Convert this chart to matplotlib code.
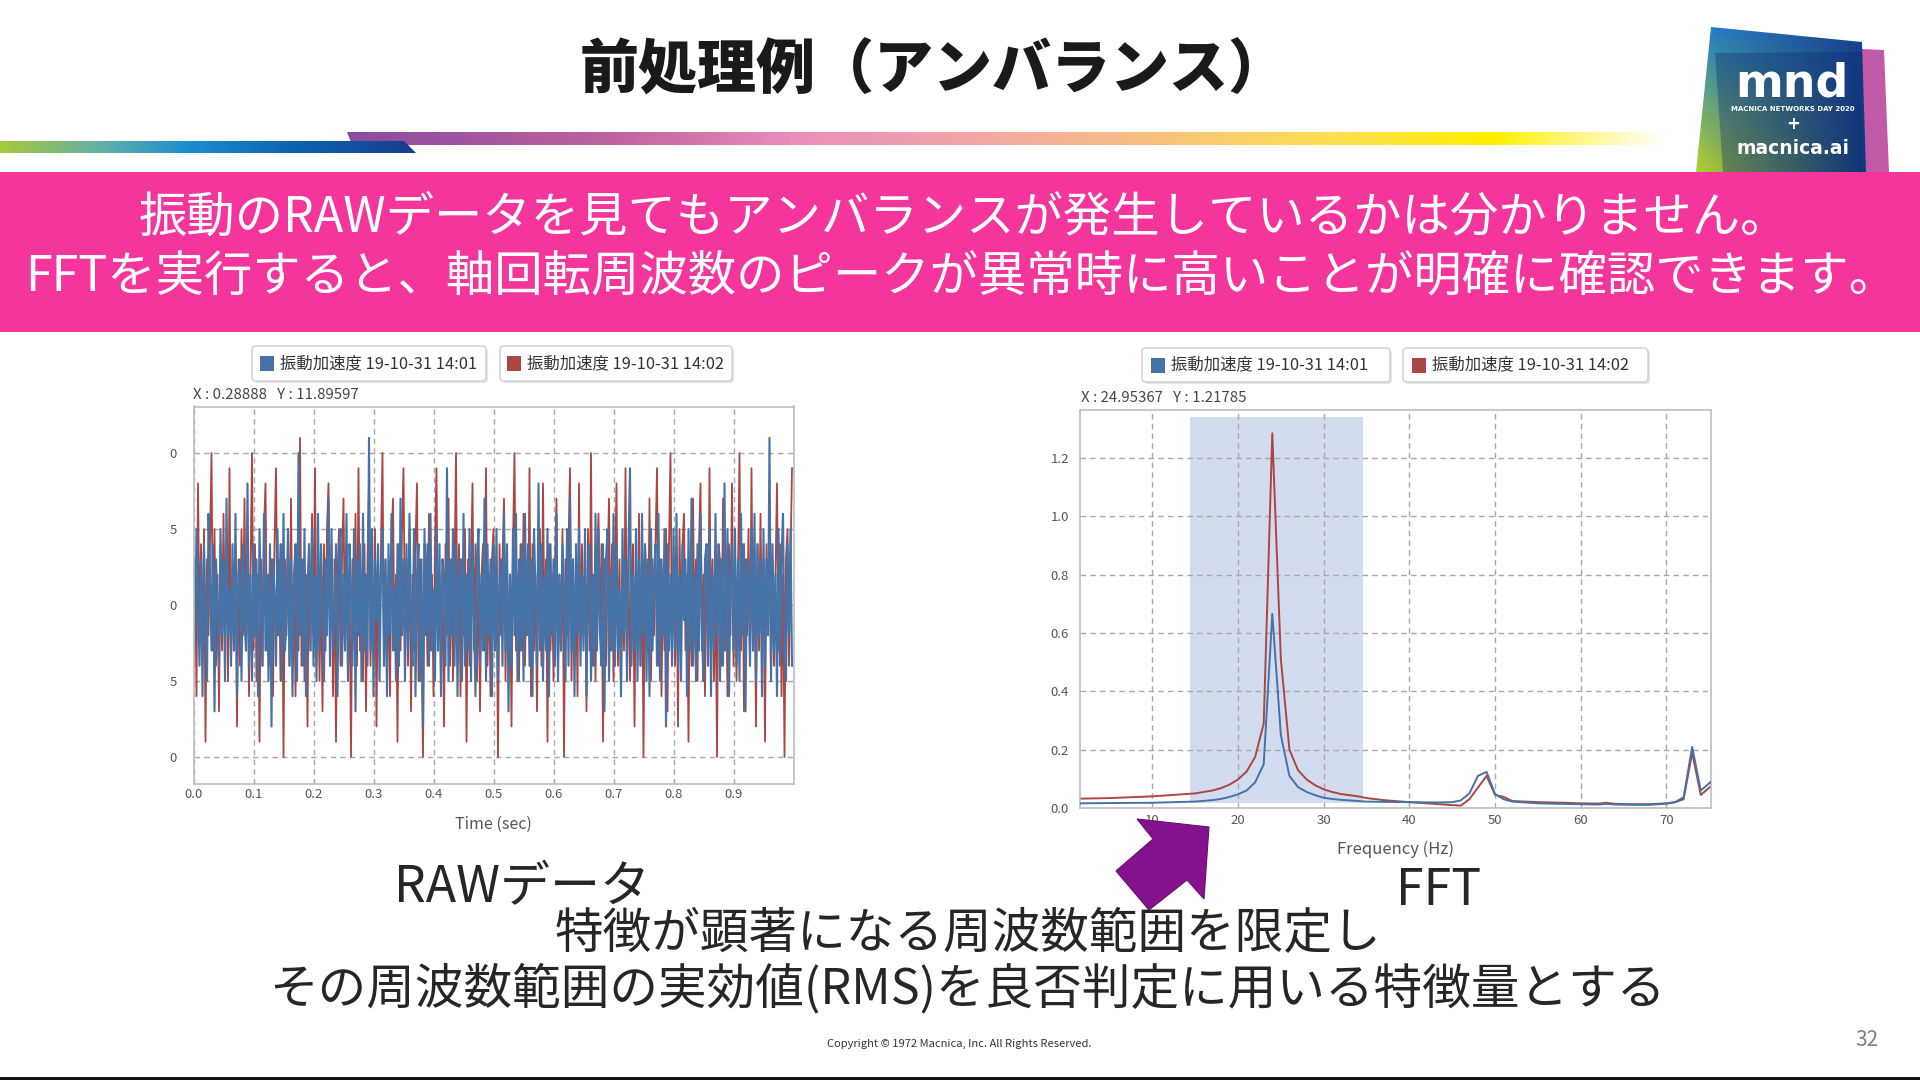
import numpy as np
import matplotlib.pyplot as plt
from matplotlib.patches import Polygon, Rectangle, FancyBboxPatch
from matplotlib.colors import LinearSegmentedColormap, to_rgb

plt.rcParams['font.family'] = ['Noto Sans CJK JP', 'DejaVu Sans']

W, H = 1920, 1080

# ---- データ ----
title = '前処理例（アンバランス）'
banner_lines = ['振動のRAWデータを見てもアンバランスが発生しているかは分かりません。',
                'FFTを実行すると、軸回転周波数のピークが異常時に高いことが明確に確認できます。']
bottom_lines = ['特徴が顕著になる周波数範囲を限定し',
                'その周波数範囲の実効値(RMS)を良否判定に用いる特徴量とする']
series_labels = ['振動加速度 19-10-31 14:01', '振動加速度 19-10-31 14:02']

# RAW 振動加速度（1秒分）
raw_blue = [2, -3, 5, 1, -4, 3, -6, 4, -1, -5, 6, 2, -3, 4, -7, 3, 0, -4, 5, -2,
            3, -5, 7, -2, 1, -4, 4, -3, 6, -6, 2, 3, -5, 4, -1, -3, 8, -4, 2, -5,
            4, -2, 3, -6, 5, 0, -4, 6, -3, 2, -5, 4, -8, 3, 1, -4, 5, -2, 4, -5,
            6, -3, -1, 5, -4, 3, -6, 2, 4, -5, 10, -2, 3, -4, 5, -6, 1, 4, -3, 5,
            -4, 2, -5, 6, -3, 4, 0, -5, 3, -2, 7, -4, 5, -3, -1, 4, -6, 3, 5, -4,
            2, -3, 6, -5, 4, 1, -4, 5, -7, 3, -2, 4, -5, 6, -3, 2, -4, 11, -3, 5,
            -6, 3, -1, 4, -5, 2, 5, -4, 3, -6, 4, -2, 6, -3, 1, -5, 4, -4, 7, -2,
            3, -5, 4, -3, 6, -1, -4, 5, -6, 2, 4, -5, 3, -8, 5, -2, 4, -4, 6, -3,
            1, -5, 5, -3, 4, -6, 3, 2, -4, 9, -5, 3, -2, 5, -4, 4, -6, 2, 3, -5,
            6, -4, 2, -3, 5, -5, 4, -1, -6, 3, 5, -4, 2, -3, 7, -5, 4, -2, 3, -6,
            4, -3, 5, -5, 1, 3, -4, 6, -3, 4, -7, 2, -4, 5, -2, 6, -5, 3, -3, 4,
            -5, 6, -2, 4, -4, 3, -6, 5, 1, -4, 8, -3, 4, -5, 2, -3, 5, -6, 4, -2,
            3, -4, 6, -5, 2, -3, 4, 1, -5, 5, -4, 7, -3, 3, -6, 4, -2, 5, -4, 2,
            -3, 5, -6, 3, 4, -5, 2, -4, 6, -3, 5, -2, -4, 4, -7, 3, 5, -5, 2, -3,
            6, -4, 4, -3, 1, -6, 5, -2, 3, -5, 4, 9, -4, 2, -3, 5, -5, 3, -4, 6,
            -2, 4, -5, 3, -6, 5, -3, 2, 4, -4, 6, -5, 3, -2, 5, -8, 4, -3, 2, -4,
            5, -3, 6, -4, 2, -5, 4, -1, 3, -6, 5, -3, 7, -4, 2, -5, 4, -3, 6, -2,
            -5, 3, 4, -4, 5, -6, 2, -3, 6, -2, 4, -5, 3, -4, 8, -3, 5, -6, 2, 4,
            -3, 5, -4, 3, -5, 6, -2, 4, -7, 3, 2, -4, 5, -3, 6, -5, 4, -2, 3, -6,
            5, -4, 3, -2, 11, -5, 4, -3, 2, -6, 5, -4, 3, 6, -3, -5, 4, -2, 5, -4]
raw_red = [-4, 3, -6, 8, -2, 4, -3, 5, -9, 3, -2, 4, 10, -3, 5, -4, 2, -7, 4, -3,
           6, -2, 3, -5, 9, -4, 2, -3, 4, -8, 3, -4, 5, -2, 7, -3, 4, -6, 2, 10,
           -3, 4, -5, 2, -9, 3, -4, 5, 8, -3, 2, -4, 3, -6, 4, 9, -2, 3, -5, 4,
           -10, 3, -2, 5, -4, 7, -3, 2, -6, 4, -3, 11, -4, 3, -5, 2, -8, 4, -3, 6,
           -2, 9, -4, 3, -5, 2, -7, 4, -3, 5, 8, -2, 4, -6, 3, -9, 2, 5, -4, 3,
           7, -3, 4, -5, 2, -10, 3, -2, 6, -4, 9, -3, 2, -5, 4, -7, 3, 8, -4, 2,
           -3, 5, -8, 3, -2, 4, 10, -4, 3, -5, 2, -6, 4, 7, -3, 2, -9, 4, -3, 5,
           9, -2, 3, -4, 5, -7, 2, -3, 4, 8, -5, 3, -2, -10, 4, 3, -4, 6, -3, 2,
           -6, 4, 9, -3, 2, -5, 3, -8, 4, -2, 7, -4, 3, -5, 2, 10, -3, 4, -6, 3,
           -2, 5, -9, 3, -4, 2, 8, -3, 4, -5, 3, -7, 2, 4, -3, 9, -4, 2, -6, 3,
           5, -3, 2, -10, 4, -2, 3, 7, -5, 3, -4, 2, -8, 4, 10, -3, 2, -5, 4, -3,
           6, -4, 3, -2, 9, -6, 4, -3, 2, -7, 3, 5, -4, 8, -2, 3, -9, 4, -3, 2,
           -5, 3, 7, -4, 2, -3, 5, -10, 3, -2, 4, 9, -5, 3, -4, 2, -6, 8, -3, 4,
           -2, 3, -7, 5, -3, 10, -4, 2, -5, 3, 6, -2, 4, -9, 3, -4, 2, 7, -3, 4,
           -5, 2, 8, -4, 3, -6, 2, -3, 9, -4, 3, -5, 2, 4, -8, 3, -2, 6, -4, 3,
           -10, 4, 2, -3, 7, -5, 3, -2, 4, 9, -4, 3, -6, 2, -3, 5, -7, 4, 10, -3,
           2, -4, 3, -8, 5, -2, 4, 6, -3, 2, -9, 3, -4, 7, -2, 3, -5, 4, 8, -3,
           2, -6, 4, -3, 9, -2, 3, -5, 2, -10, 4, 3, -4, 7, -3, 2, -6, 4, -2, 8,
           -4, 3, -5, 2, 10, -3, 4, -7, 3, -2, 5, -4, 9, -3, 2, -8, 4, -3, 6, -2,
           3, -9, 4, -2, 7, -5, 3, -4, 2, 8, -3, 4, -6, 2, -10, 3, 5, -4, 3, 9]
raw_dt = 0.0025  # sec

# FFT スペクトル
fft_freq = [1.6, 5, 10, 15, 17, 18, 19, 20, 21, 22, 23, 24, 25, 26, 27, 28, 29, 30, 31, 32,
            33, 34, 35, 37, 40, 43, 45, 46, 47, 48, 49, 50, 51, 52, 55, 58, 60, 62, 63, 64,
            66, 68, 70, 71, 72, 73, 74, 75.2]
fft_blue = [0.016, 0.017, 0.018, 0.022, 0.027, 0.031, 0.038, 0.047, 0.06, 0.088, 0.15, 0.666,
            0.25, 0.11, 0.072, 0.055, 0.044, 0.035, 0.031, 0.028, 0.026, 0.024, 0.022, 0.021,
            0.02, 0.019, 0.02, 0.026, 0.05, 0.11, 0.124, 0.048, 0.03, 0.022, 0.016, 0.014,
            0.013, 0.012, 0.014, 0.012, 0.011, 0.011, 0.015, 0.02, 0.037, 0.21, 0.06, 0.09]
fft_red = [0.032, 0.034, 0.04, 0.05, 0.06, 0.068, 0.08, 0.098, 0.125, 0.175, 0.29, 1.285,
           0.51, 0.2, 0.13, 0.098, 0.078, 0.064, 0.055, 0.048, 0.044, 0.04, 0.034, 0.027,
           0.02, 0.014, 0.01, 0.008, 0.03, 0.07, 0.11, 0.045, 0.038, 0.024, 0.02, 0.018,
           0.016, 0.015, 0.018, 0.014, 0.013, 0.013, 0.016, 0.02, 0.03, 0.19, 0.045, 0.075]
band_lo, band_hi = 14.4, 34.6

raw_xticks = [0.0, 0.1, 0.2, 0.3, 0.4, 0.5, 0.6, 0.7, 0.8, 0.9]
raw_yticks = [10, 5, 0, -5, -10]
raw_ytick_labels = ['0', '5', '0', '5', '0']   # 元画像で左側が切れている
fft_xticks = [10, 20, 30, 40, 50, 60, 70]
fft_yticks = [0.0, 0.2, 0.4, 0.6, 0.8, 1.0, 1.2]

BLUE = '#4572A7'
RED = '#AA4643'
PINK = '#F4359B'

fig = plt.figure(figsize=(19.2, 10.8), dpi=100)
fig.patch.set_facecolor('white')


def px_rect(l, t, r, b):
    return [l / W, 1 - b / H, (r - l) / W, (b - t) / H]


def overlay(z):
    a = fig.add_axes([0, 0, 1, 1], zorder=z)
    a.set_xlim(0, W)
    a.set_ylim(H, 0)
    a.axis('off')
    a.patch.set_alpha(0)
    return a


def hgrad(ax, poly, colors, stops):
    xs = [p[0] for p in poly]
    ys = [p[1] for p in poly]
    cmap = LinearSegmentedColormap.from_list('g', list(zip(stops, colors)))
    im = ax.imshow(np.linspace(0, 1, 512)[None, :], cmap=cmap, aspect='auto',
                   extent=(min(xs), max(xs), max(ys), min(ys)), zorder=1)
    clip = Polygon(poly, closed=True, facecolor='none', edgecolor='none')
    ax.add_patch(clip)
    im.set_clip_path(clip)


bg = overlay(0)

# ---- ヘッダー ----
bg.text(934, 71, title, fontsize=42.5, fontweight='heavy', color='#1a1a1a',
        ha='center', va='center')
hgrad(bg, [(347, 132), (1665, 132), (1665, 145), (352, 145)],
      ['#8A4B9E', '#C0629F', '#EB8DBB', '#F3A7A6', '#F8C27C', '#FBE24C', '#FFF000', '#FFFFFF'],
      [0, 0.2, 0.34, 0.48, 0.62, 0.76, 0.87, 1])
hgrad(bg, [(0, 141), (404, 141), (416, 153), (0, 153)],
      ['#A6C83A', '#5FB0A8', '#1C8DD0', '#0B65B4', '#1A3C8C'],
      [0, 0.25, 0.45, 0.7, 1])

# ロゴ
bg.add_patch(Polygon([(1838, 48), (1884, 50), (1889, 172), (1838, 172)],
                     closed=True, facecolor='#C25AAA', edgecolor='none', zorder=1))
u = np.linspace(0, 1, 80)[None, :, None]
v = np.linspace(0, 1, 80)[:, None, None]
c = lambda s: np.array(to_rgb(s))[None, None, :]
logo_img = ((1 - u) * (1 - v) * c('#2383C9') + u * (1 - v) * c('#173F8E')
            + (1 - u) * v * c('#B5D230') + u * v * c('#0F3A80'))
im = bg.imshow(logo_img, extent=(1694, 1866, 172, 27), aspect='auto', zorder=2)
logo_clip = Polygon([(1711, 27), (1862, 42), (1866, 172), (1696, 172)], closed=True,
                    facecolor='none', edgecolor='none')
bg.add_patch(logo_clip)
im.set_clip_path(logo_clip)
bg.add_patch(Polygon([(1715, 53), (1862, 52), (1863, 172), (1723, 172)], closed=True,
                     facecolor='#0B2A6E', alpha=0.35, edgecolor='none', zorder=3))
bg.text(1792, 84, 'mnd', color='white', fontsize=33, fontweight='bold',
        family='DejaVu Sans', ha='center', va='center', zorder=4)
bg.text(1793, 109, 'MACNICA NETWORKS DAY 2020', color='white', fontsize=5,
        fontweight='bold', family='DejaVu Sans', ha='center', va='center', zorder=4)
bg.text(1793, 124, '+', color='white', fontsize=12, fontweight='bold',
        family='DejaVu Sans', ha='center', va='center', zorder=4)
bg.text(1793, 148, 'macnica.ai', color='white', fontsize=13.5, fontweight='bold',
        family='DejaVu Sans', ha='center', va='center', zorder=4)

# ピンクのバナー
bg.add_patch(Rectangle((0, 172), W, 160, facecolor=PINK, edgecolor='none', zorder=5))
bg.text(964, 218, banner_lines[0], color='white', fontsize=34.8, ha='center',
        va='center', zorder=6)
bg.text(961, 277, banner_lines[1], color='white', fontsize=34.8, ha='center',
        va='center', zorder=6)


# ---- 凡例ボックス ----
def legend_box(x0, x1, y0, y1, sq_x, txt_x, color, label):
    bg.add_patch(FancyBboxPatch((x0 + 2, y0 + 2), x1 - x0, y1 - y0,
                                boxstyle='round,pad=0,rounding_size=4',
                                facecolor='#E6E6E6', edgecolor='none', zorder=1))
    bg.add_patch(FancyBboxPatch((x0, y0), x1 - x0, y1 - y0,
                                boxstyle='round,pad=0,rounding_size=4',
                                facecolor='white', edgecolor='#CFCFCF', lw=1, zorder=2))
    yc = (y0 + y1) / 2
    bg.add_patch(Rectangle((sq_x, yc - 7.5), 14, 15, facecolor=color, edgecolor='none', zorder=3))
    bg.text(txt_x, yc, label, fontsize=11.8, color='#333333', ha='left', va='center', zorder=3)


legend_box(252, 486, 346, 381, 260, 280, BLUE, series_labels[0])
legend_box(500, 732, 346, 381, 507, 527, RED, series_labels[1])
legend_box(1142, 1390, 348, 382, 1151, 1171, BLUE, series_labels[0])
legend_box(1403, 1648, 348, 382, 1412, 1432, RED, series_labels[1])

bg.text(193, 395, 'X : 0.28888   Y : 11.89597', fontsize=10.8, color='#444444',
        ha='left', va='center')
bg.text(1081, 398, 'X : 24.95367   Y : 1.21785', fontsize=10.8, color='#444444',
        ha='left', va='center')


def style_axes(ax):
    for s in ax.spines.values():
        s.set_color('#BDBDBD')
        s.set_linewidth(1.2)
    ax.grid(True, linestyle=(0, (4, 3)), color='#A8A8A8', linewidth=1)
    ax.tick_params(length=0, labelsize=9.5, labelcolor='#555555')


# ---- RAW チャート ----
ax1 = fig.add_axes(px_rect(193.5, 406.5, 793.5, 783.7), zorder=2)
t = np.arange(len(raw_blue)) * raw_dt
ax1.plot(t, raw_red, color=RED, lw=1.3)
ax1.plot(t, raw_blue, color=BLUE, lw=1.5)
ax1.set_xlim(0, 1.0)
ax1.set_ylim(-11.76, 13.06)
ax1.set_xticks(raw_xticks)
ax1.set_xticklabels([f'{x:.1f}' for x in raw_xticks])
ax1.set_yticks(raw_yticks)
ax1.set_yticklabels(raw_ytick_labels)
style_axes(ax1)
ax1.tick_params(axis='y', pad=12)
ax1.tick_params(axis='x', pad=3)
ax1.set_xlabel('Time (sec)', fontsize=11.5, color='#555555', labelpad=11)

# ---- FFT チャート ----
ax2 = fig.add_axes(px_rect(1080, 410, 1710.6, 808), zorder=2)
ax2.axvspan(band_lo, band_hi, ymin=0.012, ymax=0.982, color='#D3DCEF', lw=0, zorder=1)
ax2.plot(fft_freq, fft_red, color=RED, lw=1.4, zorder=2)
ax2.plot(fft_freq, fft_blue, color=BLUE, lw=1.4, zorder=3)
ax2.set_xlim(1.56, 75.15)
ax2.set_ylim(0, 1.365)
ax2.set_xticks(fft_xticks)
ax2.set_yticks(fft_yticks)
ax2.set_yticklabels([f'{y:.1f}' for y in fft_yticks])
style_axes(ax2)
ax2.tick_params(axis='y', pad=8)
ax2.tick_params(axis='x', pad=4)
ax2.set_xlabel('Frequency (Hz)', fontsize=12, color='#555555', labelpad=10)

# ---- 前景：矢印と説明文 ----
fg = overlay(5)
fg.add_patch(Polygon([(1137, 819), (1209, 827), (1204, 899), (1187, 880),
                      (1149, 910), (1116, 871), (1153, 839)], closed=True,
                     facecolor='#84128C', edgecolor='#6A0E70', lw=0.8))
fg.text(522, 888, 'RAWデータ', fontsize=36, color='#262626', ha='center', va='center')
fg.text(1439, 891, 'FFT', fontsize=36, color='#262626', ha='center', va='center')
fg.text(968, 934, bottom_lines[0], fontsize=35, color='#262626', ha='center', va='center')
fg.text(967, 989, bottom_lines[1], fontsize=35, color='#262626', ha='center', va='center')
fg.text(959, 1044, 'Copyright © 1972 Macnica, Inc. All Rights Reserved.', fontsize=8,
        color='#333333', ha='center', va='center')
fg.text(1867, 1040, '32', fontsize=15, color='#808080', ha='center', va='center')
fg.add_patch(Rectangle((0, 1076.5), W, 3.5, facecolor='#111111', edgecolor='none'))

fig.savefig('out.png', dpi=100)
